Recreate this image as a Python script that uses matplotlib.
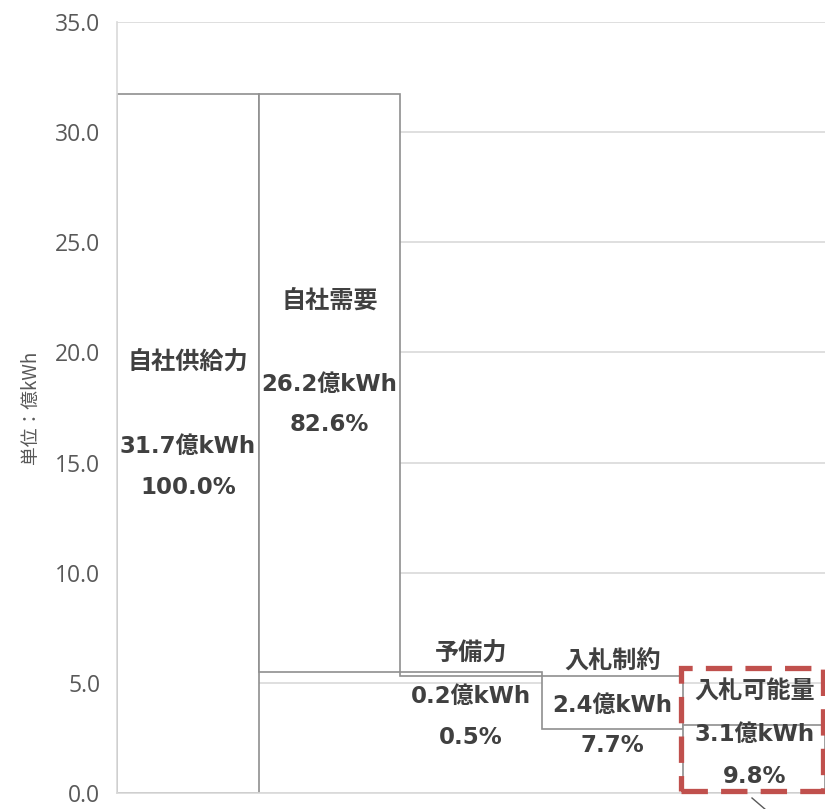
import matplotlib
matplotlib.use("Agg")
import matplotlib.pyplot as plt
from matplotlib.patches import Rectangle
from matplotlib.lines import Line2D

plt.rcParams['font.family'] = ['DejaVu Sans', 'Noto Sans CJK JP']

# ---- data ----
categories = ["自社供給力", "自社需要", "予備力", "入札制約", "入札可能量"]
values = [31.7, 26.2, 0.2, 2.4, 3.1]
value_labels = ["31.7億kWh", "26.2億kWh", "0.2億kWh", "2.4億kWh", "3.1億kWh"]
pct_labels = ["100.0%", "82.6%", "0.5%", "7.7%", "9.8%"]
yticks = [0, 5, 10, 15, 20, 25, 30, 35]
ylabel = "単位：億kWh"

# waterfall bottoms
bottoms = [0.0]
level = values[0]
for v in values[1:4]:
    level -= v
    bottoms.append(level)
bottoms.append(0.0)

W, H = 825, 809
fig = plt.figure(figsize=(W / 100, H / 100), dpi=100)
ax = fig.add_axes([117 / W, (H - 793.3) / H, (W - 117) / W, 771.6 / H])

x = list(range(len(categories)))
ax.bar(x, values, bottom=bottoms, width=1.0, color="white",
       edgecolor="#8f8f8f", linewidth=1.2, zorder=3)

ax.set_xlim(-0.5, 4.5)
ax.set_ylim(0, 35)
ax.set_yticks(yticks)
ax.set_yticklabels([f"{t:.1f}" for t in yticks], fontsize=16.5,
                   color="#595959", family=["Open Sans", "DejaVu Sans"])
ax.tick_params(axis="y", length=0, pad=12)
ax.set_xticks([])
ax.grid(axis="y", color="#d9d9d9", linewidth=1.2, zorder=0)
for s in ["top", "right"]:
    ax.spines[s].set_visible(False)
for s in ["left", "bottom"]:
    ax.spines[s].set_color("#d9d9d9")
    ax.spines[s].set_linewidth(1.2)
    ax.spines[s].set_zorder(4)

fig.text(30 / W, 1 - 407 / H, ylabel, rotation=90, ha="center", va="center",
         fontsize=13.5, color="#595959", family=["Noto Sans CJK JP", "DejaVu Sans"])

# label layout (data y positions of the three text lines per bar)
name_y = [19.6, 22.35, 6.35, 5.95, 4.6]
val_y = [15.75, 18.55, 4.4, 4.0, 2.65]
pct_y = [13.85, 16.75, 2.55, 2.15, 0.75]
txt = dict(ha="center", va="center", fontweight="bold",
           color="#404040", zorder=6)
for i in x:
    ax.text(i, name_y[i], categories[i], fontsize=17.4, **txt)
    ax.text(i, val_y[i], value_labels[i], fontsize=16.5, **txt)
    ax.text(i, pct_y[i], pct_labels[i], fontsize=16.5, **txt)

# red dashed highlight box around the last bar
box = Rectangle((3.485, 0.1), 1.0, 5.57, fill=False, edgecolor="#c0504d",
                linewidth=3.8, linestyle=(0, (5, 2.5)), zorder=7, clip_on=False)
ax.add_patch(box)

# leader line
fig.add_artist(Line2D([752 / W, 766 / W], [1 - 798 / H, 1 - 810 / H],
                      color="#595959", linewidth=1.0))

fig.savefig("out.png", dpi=100)
